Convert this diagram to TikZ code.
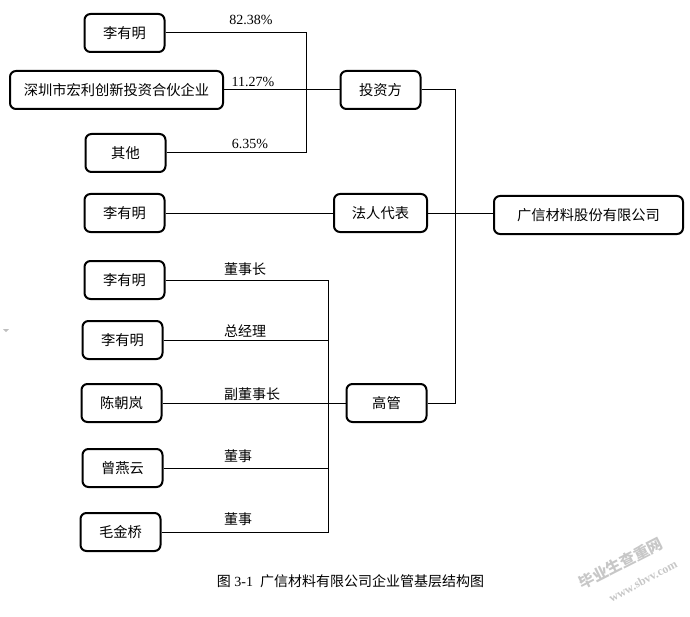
\documentclass[tikz,border=0pt]{standalone}
\usepackage{fontspec}
\setmainfont{Liberation Serif}
\newfontfamily\cjk{Noto Sans CJK SC}
\tikzset{
	orgbox/.style={draw, line width=1.5pt, rounded corners=4.5pt, minimum height=28.5pt, inner sep=0pt, font=\cjk\fontsize{10.7}{12}\selectfont},
	namebox/.style={orgbox, minimum width=60pt},
	tag/.style={inner sep=0pt, font=\fontsize{10.5}{12}\selectfont},
	duty/.style={inner sep=0pt, font=\cjk\fontsize{10.5}{12}\selectfont},
	link/.style={line width=.75pt}
}
\begin{document}
\begin{tikzpicture}[x=.75pt, y=-.75pt]
			\useasboundingbox (0,0) rectangle (690,617);
			\node [namebox] (LiA) at (124.5,33) {李有明};
			\node [orgbox, minimum width=159.75pt] (Shenzhen) at (116.5,90) {深圳市宏利创新投资合伙企业};
			\node [namebox] (Other) at (125.5,153) {其他};
			\node [namebox] (LiB) at (124.5,213) {李有明};
			\node [namebox] (LiC) at (124.5,280) {李有明};
			\node [namebox] (LiD) at (122.5,340) {李有明};
			\node [namebox] (Chen) at (121.5,403) {陈朝岚};
			\node [namebox] (Zeng) at (122.5,468) {曾燕云};
			\node [namebox] (Mao) at (120.5,532) {毛金桥};
			\node [namebox] (Investor) at (380.5,90) {投资方};
			\node [orgbox, minimum width=69.75pt] (Legal) at (380.5,213) {法人代表};
			\node [namebox] (Exec) at (386.5,403) {高管};
			\node [orgbox, minimum width=141.75pt] (Company) at (588.5,215) {广信材料股份有限公司};
			\coordinate (BusA) at (306,90);
			\coordinate (BusB) at (328,403);
			\coordinate (BusC) at (455,213);
				\draw [link] (LiA.east) -| (BusA);
				\draw [link] (Other.east) -| (BusA);
				\draw [link] (Shenzhen.east) -- (Investor.west);
				\draw [link] (LiB.east) -- (Legal.west);
				\draw [link] (Legal.east) -- (Legal.east -| Company.west);
				\draw [link] (Investor.east) -| (BusC);
				\draw [link] (Exec.east) -| (BusC);
				\draw [link] (LiC.east) -| (BusB);
				\draw [link] (Mao.east) -| (BusB);
				\draw [link] (LiD.east) -- (LiD.east -| BusB);
				\draw [link] (Chen.east) -- (Exec.west);
				\draw [link] (Zeng.east) -- (Zeng.east -| BusB);
			\node [tag] (ShareA) at (251,20) {82.38\%};
			\node [tag] (ShareB) at (253,82) {11.27\%};
			\node [tag] (ShareC) at (250,144) {6.35\%};
			\node [duty] (DutyA) at (245,269) {董事长};
			\node [duty] (DutyB) at (245,331) {总经理};
			\node [duty] (DutyC) at (252,394) {副董事长};
			\node [duty] (DutyD) at (238,456) {董事};
			\node [duty] (DutyE) at (238,519) {董事};
			\node [inner sep=0pt, font=\fontsize{10.5}{12}\selectfont] (Caption) at (350.5,581) {{\cjk 图}\ 3-1\ \ {\cjk 广信材料有限公司企业管基层结构图}};
			\node [inner sep=0pt, rotate=27, text=black!22, font=\cjk\bfseries\fontsize{11.5}{13}\selectfont] (MarkA) at (621,563) {毕业生查重网};
			\node [inner sep=0pt, rotate=28, text=black!22, font=\bfseries\fontsize{9}{10}\selectfont] (MarkB) at (643,581) {www.sbvv.com};
			\fill [black!25] (3,329) -- (9,329) -- (6,332) -- cycle;
		\end{tikzpicture}
\end{document}
